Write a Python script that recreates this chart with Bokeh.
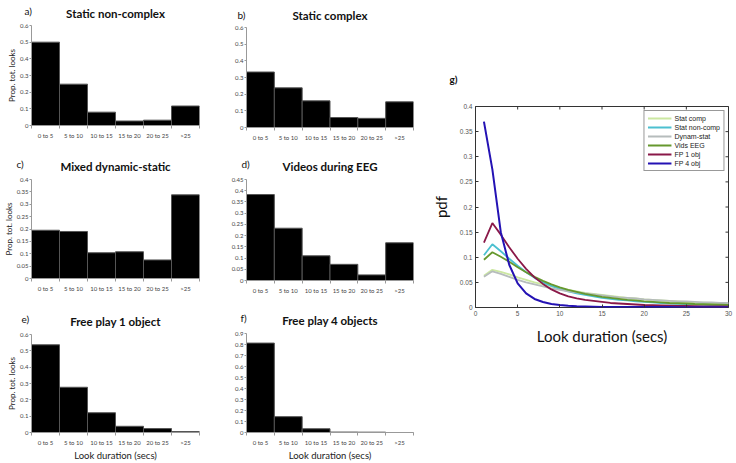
from bokeh.plotting import figure
from bokeh.models import Range1d, FixedTicker, Legend, LegendItem, Title
from bokeh.layouts import row, column
from bokeh.embed import file_html
from bokeh.resources import INLINE

# ---------------- data ----------------
categories = ["0 to 5", "5 to 10", "10 to 15", "15 to 20", "20 to 25", ">25"]
static_noncomplex = [0.500, 0.248, 0.080, 0.027, 0.032, 0.117]
static_complex = [0.333, 0.238, 0.160, 0.060, 0.055, 0.154]
mixed_dynamic_static = [0.195, 0.190, 0.104, 0.108, 0.075, 0.338]
videos_eeg = [0.383, 0.233, 0.110, 0.072, 0.025, 0.168]
free_play_1 = [0.537, 0.277, 0.121, 0.038, 0.024, 0.006]
free_play_4 = [0.813, 0.144, 0.034, 0.004, 0.003, 0.0]

look_secs = [1, 2, 3, 4, 5, 6, 7, 8, 9, 10, 11, 12, 13, 14, 15,
             16, 17, 18, 19, 20, 21, 22, 23, 24, 25, 26, 27, 28, 29, 30]
pdf_stat_comp = [0.063, 0.075, 0.071, 0.066, 0.060, 0.055, 0.050, 0.046, 0.042, 0.038,
                 0.035, 0.032, 0.029, 0.027, 0.025, 0.023, 0.021, 0.019, 0.018, 0.016,
                 0.015, 0.014, 0.013, 0.012, 0.011, 0.010, 0.0095, 0.009, 0.0085, 0.008]
pdf_stat_noncomp = [0.104, 0.126, 0.112, 0.097, 0.083, 0.070, 0.059, 0.050, 0.043, 0.037,
                    0.032, 0.028, 0.025, 0.022, 0.019, 0.017, 0.015, 0.014, 0.012, 0.011,
                    0.010, 0.009, 0.008, 0.0075, 0.007, 0.006, 0.0055, 0.005, 0.0048, 0.0045]
pdf_dynam_stat = [0.061, 0.072, 0.067, 0.061, 0.055, 0.050, 0.046, 0.042, 0.038, 0.035,
                  0.032, 0.030, 0.028, 0.026, 0.024, 0.022, 0.020, 0.019, 0.018, 0.016,
                  0.015, 0.014, 0.013, 0.012, 0.012, 0.011, 0.010, 0.010, 0.009, 0.009]
pdf_vids_eeg = [0.095, 0.110, 0.101, 0.091, 0.080, 0.070, 0.061, 0.053, 0.046, 0.040,
                0.035, 0.031, 0.027, 0.024, 0.021, 0.019, 0.017, 0.015, 0.014, 0.012,
                0.011, 0.010, 0.009, 0.0085, 0.008, 0.007, 0.0065, 0.006, 0.0055, 0.005]
pdf_fp1 = [0.129, 0.168, 0.145, 0.120, 0.097, 0.077, 0.060, 0.047, 0.036, 0.028,
           0.022, 0.018, 0.015, 0.013, 0.011, 0.009, 0.008, 0.007, 0.006, 0.005,
           0.0045, 0.004, 0.0035, 0.003, 0.003, 0.0025, 0.002, 0.002, 0.002, 0.0015]
pdf_fp4 = [0.370, 0.275, 0.150, 0.085, 0.048, 0.028, 0.017, 0.011, 0.007, 0.005,
           0.0035, 0.0025, 0.002, 0.0015, 0.001, 0.001, 0.001, 0.001, 0.001, 0.001,
           0.0008, 0.0008, 0.0008, 0.0007, 0.0007, 0.0007, 0.0006, 0.0006, 0.0006, 0.0005]

series_names = ["Stat comp", "Stat non-comp", "Dynam-stat", "Vids EEG", "FP 1 obj", "FP 4 obj"]
series_values = [pdf_stat_comp, pdf_stat_noncomp, pdf_dynam_stat, pdf_vids_eeg, pdf_fp1, pdf_fp4]
series_colors = ["#cce8a2", "#4cc0d0", "#b6bcbc", "#66982e", "#8a1848", "#2412b4"]

FONT = "Lato"


def hist(title, letter, vals, ymax, ystep, width, height, b_left, b_right, b_top, b_bottom,
         ylabel=None, xlabel=None, letter_off=0, title_gap=14, letter_gap=-38, valign="bottom"):
    p = figure(width=width, height=height, x_range=Range1d(0, len(categories)),
               y_range=Range1d(0, ymax), output_backend="svg", toolbar_location=None,
               min_border_left=b_left, min_border_right=b_right,
               min_border_top=b_top, min_border_bottom=b_bottom)
    p.outline_line_color = None
    p.grid.visible = False
    p.add_layout(Title(text=title, align="center", text_font=FONT, text_font_style="bold",
                       text_font_size="11.5px", standoff=title_gap, text_color="#111111",
                       vertical_align=valign), "above")
    p.add_layout(Title(text=letter, align="left", offset=letter_off, text_font=FONT,
                       text_font_style="normal", text_font_size="10px", standoff=letter_gap,
                       text_color="#111111"), "above")
    idx = list(range(len(categories)))
    p.quad(left=idx, right=[i + 1 for i in idx], bottom=0, top=vals,
           fill_color="black", line_color="#555555", line_width=1)
    centers = [i + 0.5 for i in idx]
    p.xaxis.ticker = FixedTicker(ticks=centers, minor_ticks=idx + [len(categories)])
    p.xaxis.major_label_overrides = {c: lab for c, lab in zip(centers, categories)}
    p.xaxis.major_tick_out = 0
    p.xaxis.major_tick_in = 0
    p.xaxis.minor_tick_out = 3
    p.xaxis.minor_tick_in = 0
    p.xaxis.minor_tick_line_color = "#999999"
    p.xaxis.axis_line_color = "#999999"
    p.xaxis.major_label_text_font = FONT
    p.xaxis.major_label_text_font_size = "6px"
    p.xaxis.major_label_text_color = "#444444"
    p.xaxis.major_label_standoff = 3
    nt = int(round(ymax / ystep))
    yt = [round(i * ystep, 2) for i in range(nt + 1)]
    p.yaxis.ticker = FixedTicker(ticks=yt, minor_ticks=[])
    p.yaxis.major_label_overrides = {t: f"{t:g}" for t in yt}
    p.yaxis.major_tick_out = 2
    p.yaxis.major_tick_in = 0
    p.yaxis.major_tick_line_color = "#999999"
    p.yaxis.axis_line_color = "#999999"
    p.yaxis.major_label_text_font = FONT
    p.yaxis.major_label_text_font_size = "6px"
    p.yaxis.major_label_text_color = "#444444"
    p.yaxis.major_label_standoff = 1
    if ylabel:
        p.yaxis.axis_label = ylabel
        p.yaxis.axis_label_text_font = FONT
        p.yaxis.axis_label_text_font_size = "8px"
        p.yaxis.axis_label_text_font_style = "normal"
        p.yaxis.axis_label_text_color = "#222222"
        p.yaxis.axis_label_standoff = 0
    if xlabel:
        p.xaxis.axis_label = xlabel
        p.xaxis.axis_label_text_font = FONT
        p.xaxis.axis_label_text_font_size = "9.5px"
        p.xaxis.axis_label_text_font_style = "normal"
        p.xaxis.axis_label_text_color = "#222222"
        p.xaxis.axis_label_standoff = 1
    return p


LW, MW = 224, 204
a = hist("Static non-complex", "a)", static_noncomplex, 0.6, 0.1, LW, 145, 0, 15, 25, 20,
         ylabel="Prop. tot. looks", letter_off=-7, title_gap=8, letter_gap=-28, valign="top")
c = hist("Mixed dynamic-static", "c)", mixed_dynamic_static, 0.4, 0.05, LW, 152, 0, 25, 34, 19,
         ylabel="Prop. tot. looks", letter_off=-15)
e = hist("Free play 1 object", "e)", free_play_1, 0.6, 0.1, LW, 166, 0, 24, 37, 28,
         ylabel="Prop. tot. looks", xlabel="Look duration (secs)", letter_off=-10)
b = hist("Static complex", "b)", static_complex, 0.6, 0.1, MW, 145, 16, 15, 27, 18,
         letter_off=-9, title_gap=7, letter_gap=-30, valign="top")
d = hist("Videos during EEG", "d)", videos_eeg, 0.45, 0.05, MW, 152, 19, 13, 34, 17, letter_off=-5)
f = hist("Free play 4 objects", "f)", free_play_4, 0.9, 0.1, MW, 166, 22, 9, 36, 31,
         xlabel="Look duration (secs)", letter_off=-6)

# ---------------- panel g ----------------
g = figure(width=308, height=463, x_range=Range1d(0, 30), y_range=Range1d(0, 0.4),
           output_backend="svg", toolbar_location=None,
           min_border_left=45, min_border_right=8, min_border_top=106, min_border_bottom=156)
g.grid.visible = False
g.outline_line_color = "#333333"
g.add_layout(Title(text="g)", align="left", offset=-26, text_font=FONT, text_font_size="10px",
                   standoff=44, text_color="#111111"), "above")
items = []
for name, vals, col in zip(series_names, series_values, series_colors):
    r = g.line(look_secs, vals, line_color=col, line_width=1.8 if name != "FP 4 obj" else 2.0)
    items.append(LegendItem(label=name, renderers=[r]))

gx_ticks = [0, 5, 10, 15, 20, 25, 30]
gy_ticks = [0, 0.05, 0.1, 0.15, 0.2, 0.25, 0.3, 0.35, 0.4]
for ax, tk in ((g.xaxis, gx_ticks), (g.yaxis, gy_ticks)):
    ax.ticker = FixedTicker(ticks=tk, minor_ticks=[])
    ax.major_label_overrides = {t: f"{t:g}" for t in tk}
    ax.major_tick_in = 3
    ax.major_tick_out = 0
    ax.major_tick_line_color = "#333333"
    ax.axis_line_color = None
    ax.major_label_text_font = "Liberation Sans"
    ax.major_label_text_font_size = "6.5px"
    ax.major_label_text_color = "#555555"
    ax.major_label_standoff = 3
    ax.axis_label_text_font = "Lato"
    ax.axis_label_text_font_style = "normal"
    ax.axis_label_text_color = "#111111"

g.xaxis.axis_label = "Look duration (secs)"
g.xaxis.axis_label_text_font_size = "15px"
g.xaxis.axis_label_standoff = 8
g.yaxis.axis_label = "pdf"
g.yaxis.axis_label_text_font_size = "15px"
g.yaxis.axis_label_standoff = 7

# matlab-style inward ticks on the top and right edges
g.scatter(x=gx_ticks, y=[0.4] * len(gx_ticks), marker="dash", angle=1.5708, size=6,
          line_color="#333333", line_width=1)
g.scatter(x=[30] * len(gy_ticks), y=gy_ticks, marker="dash", size=6,
          line_color="#333333", line_width=1)

legend = Legend(items=items, location="top_right", label_text_font="Liberation Sans",
                label_text_font_size="7px", label_text_color="#222222",
                glyph_width=24, glyph_height=8, label_height=8, spacing=1,
                padding=3, margin=4, label_standoff=3,
                border_line_color="#333333", background_fill_alpha=1.0)
g.add_layout(legend)

layout = row(column(a, c, e), column(b, d, f), g)

open("out.html", "w").write(file_html(layout, INLINE))
